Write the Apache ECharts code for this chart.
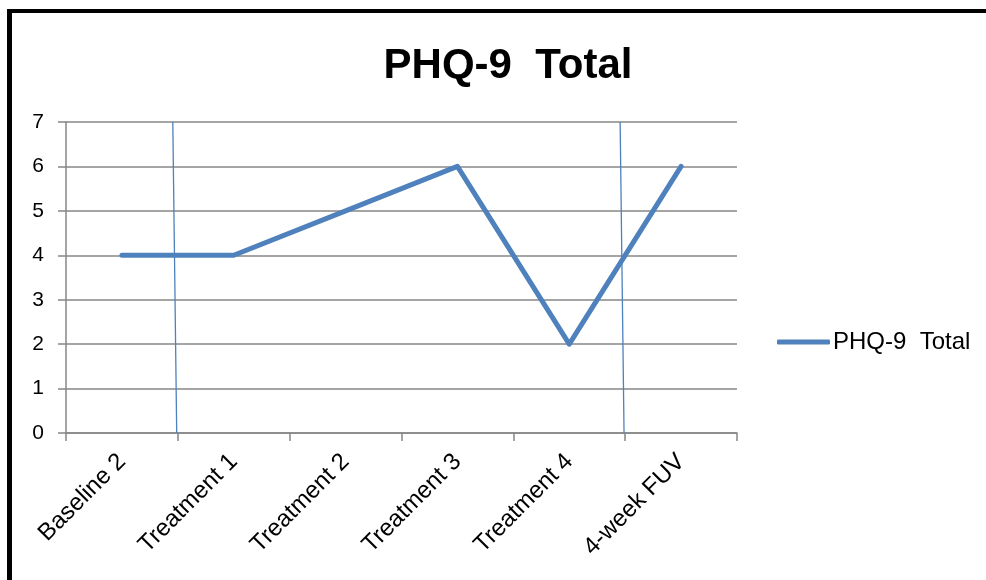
<!DOCTYPE html>
<html>
<head>
<meta charset="utf-8">
<script src="https://cdn.jsdelivr.net/npm/echarts@6/dist/echarts.min.js"></script>
<style>
  html, body { margin: 0; padding: 0; background: #fff; overflow: hidden; }
  #wrap { position: relative; width: 986px; height: 580px; overflow: hidden; }
  #chart { position: absolute; left: 0; top: 0; width: 986px; height: 580px; }
  #frame {
    position: absolute; left: 7px; top: 9px; width: 1000px; height: 620px;
    border-left: 5px solid #000; border-top: 4px solid #000; pointer-events: none;
  }
</style>
</head>
<body>
<div id="wrap">
  <div id="chart"></div>
  <div id="frame"></div>
</div>
<script>
const categories = ['Baseline 2', 'Treatment 1', 'Treatment 2', 'Treatment 3', 'Treatment 4', '4-week FUV']
const phqTotal = [4, 4, 5, 6, 2, 6]
const yTicks = [0, 1, 2, 3, 4, 5, 6, 7]
// phase change lines, in category-slot units (0..6) on a hidden value axis
const phaseLine1 = [[0.955, 7], [0.99, 0]]
const phaseLine2 = [[4.955, 7], [4.99, 0]]

const blue = '#4f81bd'
const gridGray = '#878787'
const font = 'Liberation Sans'

const chart = echarts.init(document.getElementById('chart'))

chart.setOption({
  animation: false,
  title: {
    text: 'PHQ-9  Total',
    left: 503,
    textAlign: 'center',
    top: 40,
    textStyle: { fontFamily: font, fontSize: 42, fontWeight: 'bold', color: '#000' }
  },
  legend: {
    data: ['PHQ-9  Total'],
    left: 772,
    top: 325,
    icon: 'roundRect',
    itemWidth: 53,
    itemHeight: 5,
    itemGap: 4,
    textStyle: { fontFamily: font, fontSize: 24, color: '#000', padding: [0, 0, 0, -2] }
  },
  grid: { left: 66, right: 249, top: 122, bottom: 147 },
  xAxis: [
    {
      type: 'category',
      data: categories,
      boundaryGap: true,
      axisLine: { lineStyle: { color: gridGray, width: 1.5 } },
      axisTick: { show: true, length: 8, lineStyle: { color: gridGray, width: 1.5 } },
      axisLabel: { rotate: 45, margin: 25, fontFamily: font, fontSize: 24, color: '#000' }
    },
    {
      type: 'value',
      min: 0,
      max: 6,
      show: false
    }
  ],
  yAxis: {
    type: 'value',
    min: yTicks[0],
    max: yTicks[yTicks.length - 1],
    interval: 1,
    axisLine: { show: true, lineStyle: { color: gridGray, width: 1.5 } },
    axisTick: { show: true, length: 8, lineStyle: { color: gridGray, width: 1.5 } },
    splitLine: { lineStyle: { color: gridGray, width: 1.5 } },
    axisLabel: { margin: 22, fontFamily: font, fontSize: 21, color: '#000' }
  },
  series: [
    {
      name: 'PHQ-9  Total',
      type: 'line',
      data: phqTotal,
      symbol: 'none',
      lineStyle: { color: blue, width: 5, cap: 'round', join: 'round' },
      itemStyle: { color: blue },
      z: 3
    },
    {
      name: 'phase1',
      type: 'line',
      xAxisIndex: 1,
      data: phaseLine1,
      symbol: 'none',
      silent: true,
      lineStyle: { color: blue, width: 1.3 },
      z: 4
    },
    {
      name: 'phase2',
      type: 'line',
      xAxisIndex: 1,
      data: phaseLine2,
      symbol: 'none',
      silent: true,
      lineStyle: { color: blue, width: 1.3 },
      z: 4
    }
  ]
})
</script>
</body>
</html>
